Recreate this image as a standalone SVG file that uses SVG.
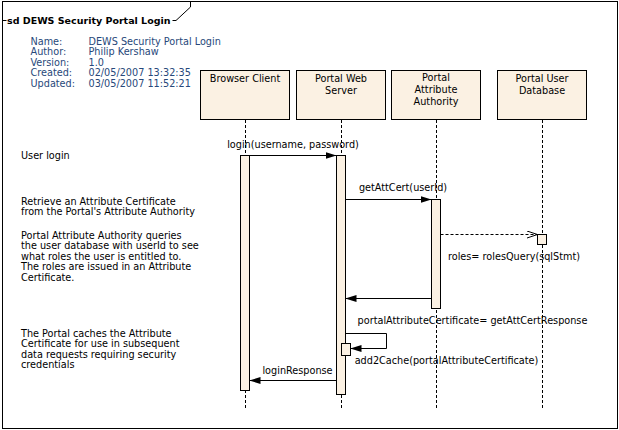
<svg xmlns="http://www.w3.org/2000/svg" width="619" height="430" viewBox="0 0 619 430">
<style>
text{font-family:"DejaVu Sans","Noto Sans",sans-serif;font-size:9.7px;fill:#000}
.hdr{fill:#27487a}
.title{font-weight:bold;font-size:9.5px}
.c{text-anchor:middle}
.box{fill:#fbf1e3;stroke:#000;stroke-width:1}
.bar{fill:#fbf1e3;stroke:#000;stroke-width:1}
.life{stroke:#000;stroke-width:1;stroke-dasharray:3 2;fill:none}
.msg{stroke:#000;stroke-width:1;fill:none}
.dash{stroke:#000;stroke-width:1;fill:none;stroke-dasharray:3 2}
</style>
<defs>
<marker id="filled" viewBox="0 0 11 7" refX="11" refY="3.5" markerWidth="11" markerHeight="7" orient="auto" markerUnits="userSpaceOnUse">
<path d="M0,0 L11,3.5 L0,7 z" fill="#000"/>
</marker>
<marker id="open" viewBox="0 0 11 8" refX="10.5" refY="4" markerWidth="11" markerHeight="8" orient="auto" markerUnits="userSpaceOnUse">
<path d="M0,0.5 L10.5,4 L0,7.5" fill="none" stroke="#000" stroke-width="1"/>
</marker>
</defs>
<rect x="0" y="0" width="619" height="430" fill="#fff"/>
<g id="frame">
<rect x="2.5" y="1.5" width="615" height="427" fill="none" stroke="#000"/>
<path d="M2.5,20.5 H176 L190.5,7 V1.5" fill="none" stroke="#000"/>
<rect x="6.5" y="13" width="166" height="14" fill="#fff"/>
<text class="title" x="7" y="23.5">sd DEWS Security Portal Login</text>
</g>
<g id="header">
<text class="hdr" x="30.5" y="44.5">Name:</text>
<text class="hdr" x="30.5" y="55">Author:</text>
<text class="hdr" x="30.5" y="65.5">Version:</text>
<text class="hdr" x="30.5" y="76">Created:</text>
<text class="hdr" x="30.5" y="87">Updated:</text>
<text class="hdr" x="88.5" y="44.5">DEWS Security Portal Login</text>
<text class="hdr" x="88.5" y="55">Philip Kershaw</text>
<text class="hdr" x="88.5" y="65.5">1.0</text>
<text class="hdr" x="88.5" y="76">02/05/2007 13:32:35</text>
<text class="hdr" x="88.5" y="87">03/05/2007 11:52:21</text>
</g>
<g id="notes">
<text x="21" y="159">User login</text>
<text x="21" y="204.5">Retrieve an Attribute Certificate</text>
<text x="21" y="215">from the Portal's Attribute Authority</text>
<text x="21" y="238.5">Portal Attribute Authority queries</text>
<text x="21" y="249">the user database with userId to see</text>
<text x="21" y="259.5">what roles the user is entitled to.</text>
<text x="21" y="270">The roles are issued in an Attribute</text>
<text x="21" y="280.5">Certificate.</text>
<text x="21" y="336.5">The Portal caches the Attribute</text>
<text x="21" y="347">Certificate for use in subsequent</text>
<text x="21" y="357.5">data requests requiring security</text>
<text x="21" y="368">credentials</text>
</g>
<g id="browser-client">
<rect class="box" x="200.5" y="70.5" width="89" height="49"/>
<text class="c" x="245" y="82">Browser Client</text>
<line class="life" x1="245.5" y1="120" x2="245.5" y2="410"/>
<rect class="bar" x="240.5" y="155.5" width="9" height="235"/>
</g>
<g id="portal-web-server">
<rect class="box" x="296.5" y="70.5" width="89" height="49"/>
<text class="c" x="341" y="82">Portal Web</text>
<text class="c" x="341" y="94">Server</text>
<line class="life" x1="341.5" y1="120" x2="341.5" y2="410"/>
<rect class="bar" x="336.5" y="155.5" width="9" height="239"/>
<rect class="bar" x="341.5" y="343.5" width="9" height="12"/>
</g>
<g id="portal-attribute-authority">
<rect class="box" x="391.5" y="70.5" width="89" height="49"/>
<text class="c" x="436" y="81">Portal</text>
<text class="c" x="436" y="93">Attribute</text>
<text class="c" x="436" y="105">Authority</text>
<line class="life" x1="436.5" y1="120" x2="436.5" y2="410"/>
<rect class="bar" x="431.5" y="199.5" width="9" height="109"/>
</g>
<g id="portal-user-database">
<rect class="box" x="497.5" y="70.5" width="89" height="49"/>
<text class="c" x="542" y="82">Portal User</text>
<text class="c" x="542" y="94">Database</text>
<line class="life" x1="542.5" y1="120" x2="542.5" y2="410"/>
<rect class="bar" x="537.5" y="234.5" width="9" height="10"/>
</g>
<g id="connectors">
<line class="msg" x1="249.5" y1="155.5" x2="336.5" y2="155.5" marker-end="url(#filled)"/>
<text class="c" x="293" y="148">login(username, password)</text>
<line class="msg" x1="345.5" y1="199.5" x2="431.5" y2="199.5" marker-end="url(#filled)"/>
<text class="c" x="403" y="190.5">getAttCert(userId)</text>
<line class="dash" x1="440.5" y1="234.5" x2="537.5" y2="234.5" marker-end="url(#open)"/>
<text class="c" x="514" y="259.5">roles= rolesQuery(sqlStmt)</text>
<line class="msg" x1="431.5" y1="298.5" x2="345.5" y2="298.5" marker-end="url(#filled)"/>
<text class="c" x="472.5" y="324">portalAttributeCertificate= getAttCertResponse</text>
<path class="msg" d="M345.5,333.5 H386.5 V348.5 H350.5" marker-end="url(#filled)"/>
<text class="c" x="446.5" y="364">add2Cache(portalAttributeCertificate)</text>
<line class="msg" x1="336.5" y1="380.5" x2="249.5" y2="380.5" marker-end="url(#filled)"/>
<text class="c" x="297.5" y="374">loginResponse</text>
</g>
</svg>
